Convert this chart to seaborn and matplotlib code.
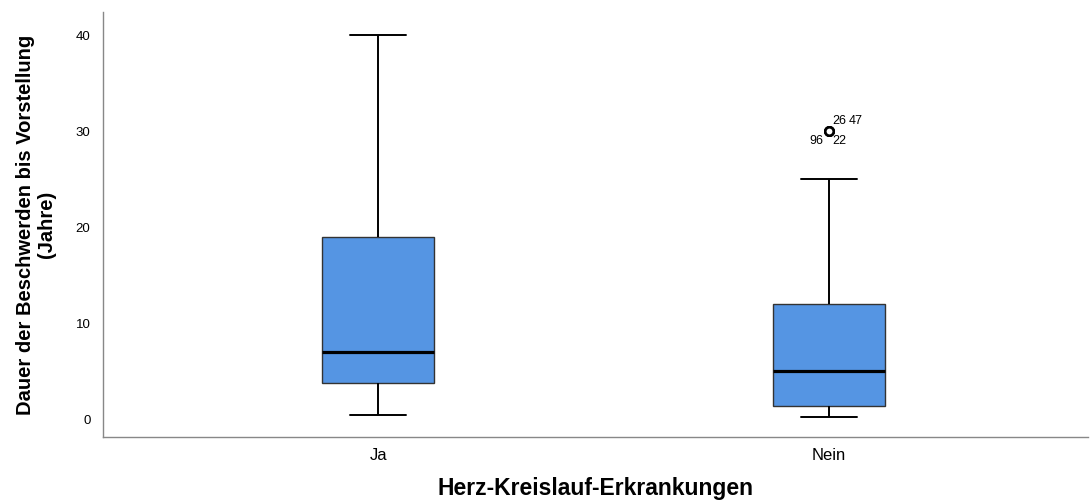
import pandas as pd
import matplotlib.pyplot as plt
import seaborn as sns

# --- Data (sample values chosen to give the drawn quartiles) ---
CATEGORIES = ['Ja', 'Nein']
ja_values = [0.4, 3.75, 7.0, 19.0, 40.0]
nein_values = [0.2, 0.4, 0.6, 0.8, 1.0, 1.35, 2.0, 3.0, 3.5, 4.0, 5.0,
               6.0, 8.0, 9.0, 10.0, 12.0, 25.0, 30.0, 30.0, 30.0, 30.0]
outlier_value = 30.0
outlier_ids = ['26', '47', '96', '22']

X_LABEL = 'Herz-Kreislauf-Erkrankungen'
Y_LABEL = 'Dauer der Beschwerden bis Vorstellung\n(Jahre)'
Y_TICKS = [0, 10, 20, 30, 40]

# --- Data preparation ---
df = pd.DataFrame({
    'Gruppe': ['Ja'] * len(ja_values) + ['Nein'] * len(nein_values),
    'Dauer': ja_values + nein_values,
})

sns.set_style('white')
plt.rcParams['font.family'] = ['Liberation Sans', 'DejaVu Sans']
plt.rcParams['text.color'] = 'black'
plt.rcParams['xtick.color'] = 'black'
plt.rcParams['ytick.color'] = 'black'
plt.rcParams['axes.labelcolor'] = 'black'

fig = plt.figure(figsize=(10.91, 5.01), dpi=100)
ax = fig.add_axes([103 / 1091, 1 - 437 / 501, 985 / 1091, 425 / 501])

line_kw = dict(color='black', linewidth=1.4)
sns.boxplot(
    data=df, x='Gruppe', y='Dauer', order=CATEGORIES, ax=ax,
    width=0.25, color='#5595E3', saturation=1,
    boxprops=dict(facecolor='#5595E3', edgecolor='#333333', linewidth=1.0),
    whiskerprops=line_kw, capprops=line_kw,
    medianprops=dict(color='black', linewidth=2.3),
    flierprops=dict(marker='o', markerfacecolor='white', markeredgecolor='black',
                    markersize=6, markeredgewidth=1.8),
    whis=1.5,
)

# outlier case numbers next to the Nein outlier
nein_pos = CATEGORIES.index('Nein')
offsets = [(2, 3, 'left', 'bottom'), (14, 3, 'left', 'bottom'),
           (-4, -3, 'right', 'top'), (2, -3, 'left', 'top')]
for lab, (dx, dy, ha, va) in zip(outlier_ids, offsets):
    ax.annotate(lab, (nein_pos, outlier_value), xytext=(dx, dy),
                textcoords='offset points', ha=ha, va=va, fontsize=9)

# --- Styling ---
ax.set_xlim(-0.61, 1.574)
ax.set_ylim(-1.875, 42.4)
ax.set_yticks(Y_TICKS)
ax.tick_params(axis='y', labelsize=9.5, length=0, pad=9)
ax.tick_params(axis='x', labelsize=12, length=0, pad=8)
sns.despine(ax=ax)
for side in ['left', 'bottom']:
    ax.spines[side].set_color('#888888')
    ax.spines[side].set_linewidth(1.0)

ax.set_xlabel(X_LABEL, fontsize=16.5, fontweight='bold', labelpad=10)
ax.set_ylabel(Y_LABEL, fontsize=14.5, fontweight='bold', labelpad=14,
              linespacing=1.15)

fig.savefig('out.png', dpi=100)
plt.close(fig)
